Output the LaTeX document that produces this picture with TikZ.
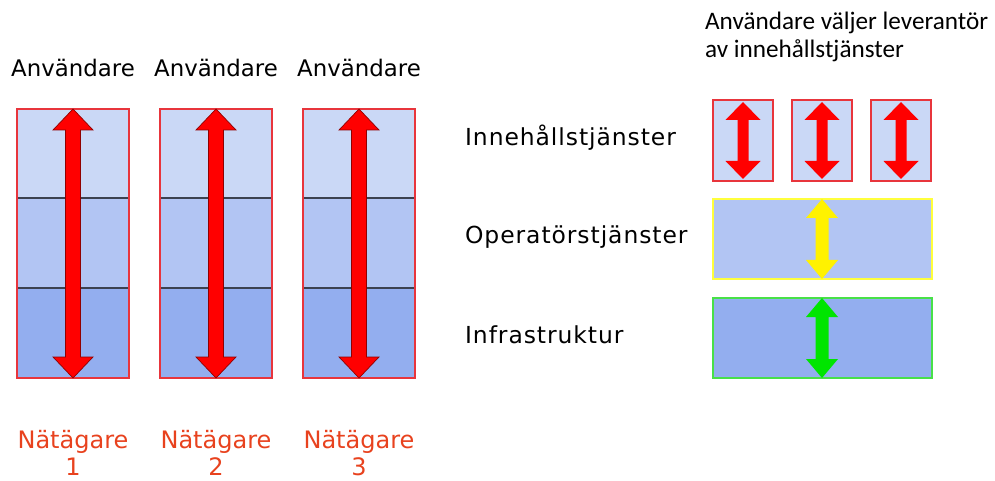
\documentclass[tikz,border=0pt]{standalone}
\usepackage{fontspec}
\setmainfont{DejaVu Sans}
\newfontfamily\rubrik{Carlito}
\newfontfamily\lagerfont[LetterSpace=4]{DejaVu Sans}

\definecolor{lagerett}{HTML}{CAD8F6}
\definecolor{lagertva}{HTML}{B2C5F3}
\definecolor{lagertre}{HTML}{93AEEF}
\definecolor{kantrod}{HTML}{E8353C}
\definecolor{kantgul}{HTML}{FFFF3C}
\definecolor{kantgron}{HTML}{48E048}
\definecolor{agare}{HTML}{E8421E}
\definecolor{pilkant}{HTML}{900000}
\definecolor{skiljelinje}{HTML}{3C4250}

% double headed block arrow: x, top, bottom, half head, head length, half shaft, style
\newcommand{\dubbelpil}[7]{%
  \draw[#7] (#1,#2) -- (#1+#4,#2+#5) -- (#1+#6,#2+#5) -- (#1+#6,#3-#5)
    -- (#1+#4,#3-#5) -- (#1,#3) -- (#1-#4,#3-#5) -- (#1-#6,#3-#5)
    -- (#1-#6,#2+#5) -- (#1-#4,#2+#5) -- cycle;}

\begin{document}
\begin{tikzpicture}[x=0.03cm,y=-0.03cm,
    anv/.style={font=\fontsize{19.5}{23}\selectfont,anchor=base},
    lager/.style={font=\lagerfont\fontsize{20}{24}\selectfont,anchor=west},
    agartext/.style={font=\fontsize{20.5}{23}\selectfont,text=agare,align=center,anchor=north,inner sep=1pt},
    storpil/.style={fill=red,draw=pilkant,line width=0.6pt},
    smapil/.style={fill=red,draw=none},
    gulpil/.style={fill=yellow,draw=none},
    gronpil/.style={fill=green!90!black,draw=none}]
  \useasboundingbox (0,0) rectangle (995,481);

  % three vertically integrated networks
  \foreach \x/\n in {73/1,216/2,359/3} {
    \fill[lagerett] (\x-56,109) rectangle (\x+56,198);
    \fill[lagertva] (\x-56,198) rectangle (\x+56,288);
    \fill[lagertre] (\x-56,288) rectangle (\x+56,378);
    \draw[skiljelinje,line width=0.9pt] (\x-56,198) -- (\x+56,198) (\x-56,288) -- (\x+56,288);
    \draw[kantrod,line width=1.2pt] (\x-56,109) rectangle (\x+56,378);
    \dubbelpil{\x}{109}{378}{20}{21}{7.5}{storpil}
    \node[anv] (anv\n) at (\x,77) {Användare};
    \node[agartext] (agare\n) at (\x,429) {Nätägare\\\n};
  }

  % open network, one layer per row
  \node[font=\rubrik\fontsize{21.5}{24}\selectfont,align=left,anchor=north west] (rubrik) at (701,8)
    {Användare väljer leverantör\\av innehållstjänster};
  \node[lager] (innehall) at (461,138) {Innehållstjänster};
  \node[lager] (operator) at (461,237) {Operatörstjänster};
  \node[lager] (infra) at (461,335) {Infrastruktur};

  \foreach \x in {743,822,901} {
    \draw[kantrod,fill=lagerett,line width=1pt] (\x-30,100) rectangle (\x+30,181);
    \dubbelpil{\x}{102}{179}{17.5}{18}{5.5}{smapil}
  }
  \draw[kantgul,fill=lagertva,line width=1pt] (713,199) rectangle (932,279);
  \dubbelpil{822}{199}{279}{16}{19}{6.5}{gulpil}
  \draw[kantgron,fill=lagertre,line width=1pt] (713,298) rectangle (932,378);
  \dubbelpil{822}{298}{378}{16}{19}{6.5}{gronpil}
\end{tikzpicture}
\end{document}
